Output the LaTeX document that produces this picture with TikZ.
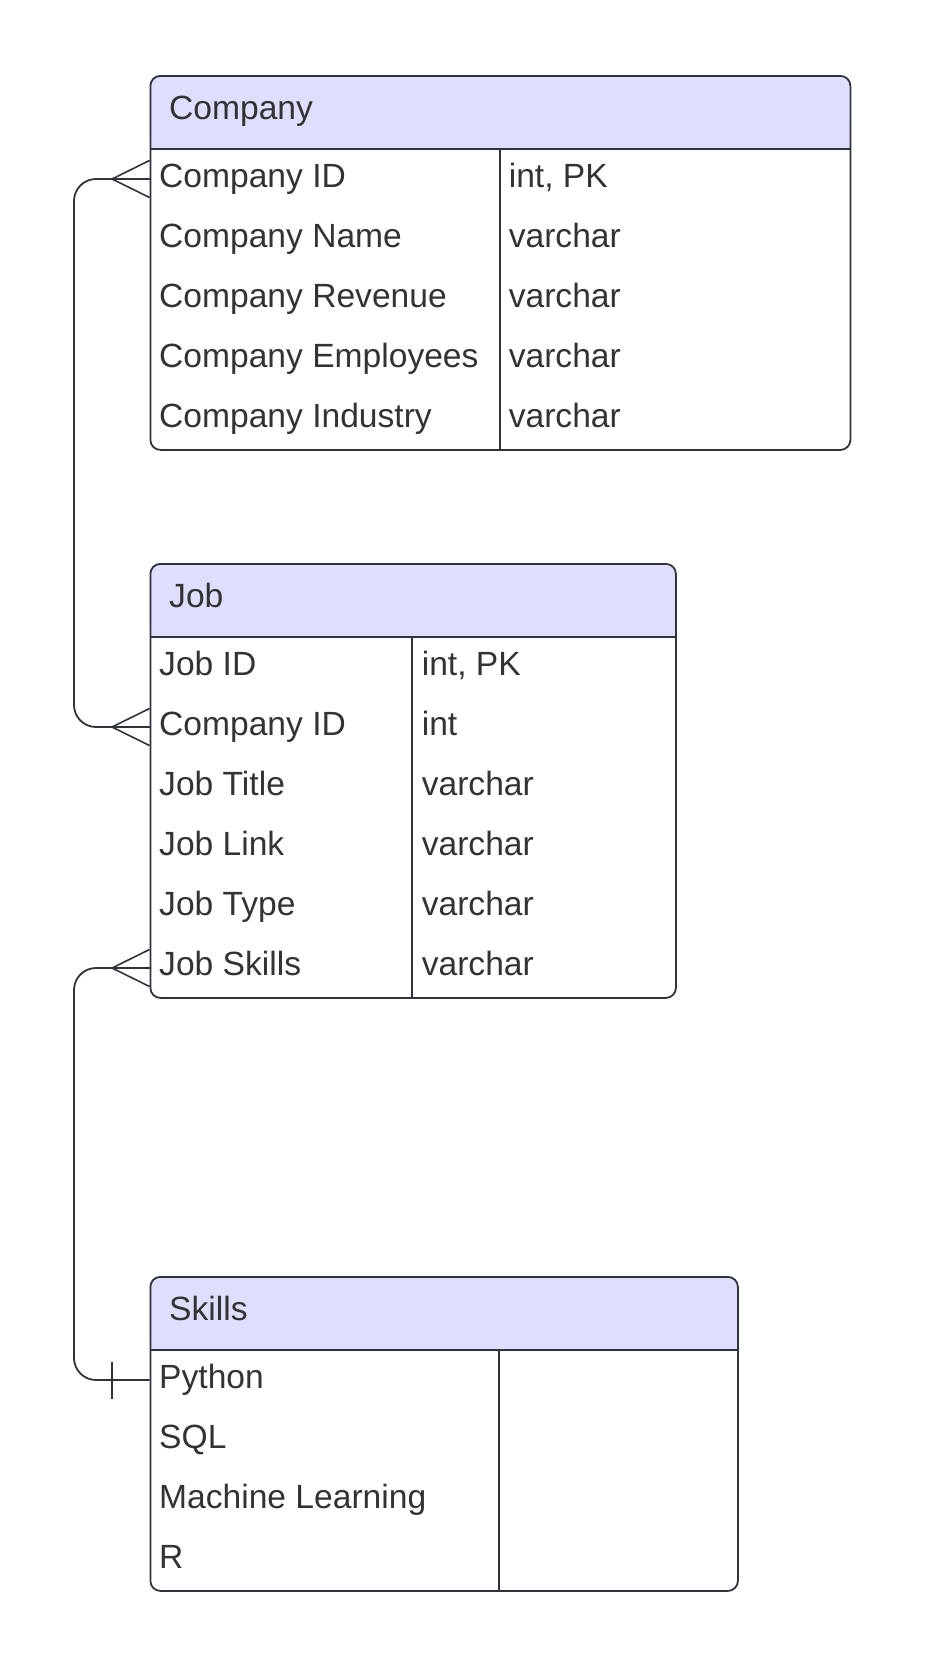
\documentclass[tikz,border=0pt]{standalone}
\usepackage{fontspec}
\setmainfont{Liberation Sans}
\definecolor{hdrfill}{RGB}{222,222,255}
\definecolor{linec}{RGB}{48,51,59}
\definecolor{txtc}{RGB}{51,51,51}
\newcommand{\erfont}{\fontsize{33.6}{40}\selectfont}
\begin{document}
\begin{tikzpicture}[x=1pt,y=-1pt,
  tablebox/.style={draw=linec,line width=1.8pt,rounded corners=10pt,anchor=north west,inner sep=0pt},
  hdr/.style={fill=hdrfill},
  rule/.style={draw=linec,line width=1.8pt},
  conn/.style={draw=linec,line width=1.8pt,rounded corners=22pt},
  foot/.style={draw=linec,line width=1.6pt},
  lbl/.style={anchor=base west,inner sep=0pt,font=\erfont,text=txtc},
]
\useasboundingbox (0,0) rectangle (926,1665);

% ---------- Company ----------
\fill[hdr,rounded corners=10pt] (149.5,75) rectangle (849.5,149);
\fill[hdr] (149.5,120) rectangle (849.5,149);
\node[tablebox,minimum width=700pt,minimum height=374pt] (company) at (149.5,75) {};
\draw[rule] (149.5,149) -- (849.5,149);
\draw[rule] (500,149) -- (500,449);
\node[lbl] (companyT) at (169,119.3) {Company};
\node[lbl] (c1) at (159,187.7) {Company ID};
\node[lbl] (c2) at (159,247.7) {Company Name};
\node[lbl] (c3) at (159,307.7) {Company Revenue};
\node[lbl] (c4) at (159,367.7) {Company Employees};
\node[lbl] (c5) at (159,427.7) {Company Industry};
\node[lbl] (c1t) at (508.6,187.7) {int, PK};
\node[lbl] (c2t) at (508.6,247.7) {varchar};
\node[lbl] (c3t) at (508.6,307.7) {varchar};
\node[lbl] (c4t) at (508.6,367.7) {varchar};
\node[lbl] (c5t) at (508.6,427.7) {varchar};

% ---------- Job ----------
\fill[hdr,rounded corners=10pt] (149.5,563) rectangle (675,637);
\fill[hdr] (149.5,600) rectangle (675,637);
\node[tablebox,minimum width=525.5pt,minimum height=434pt] (job) at (149.5,563) {};
\draw[rule] (149.5,637) -- (675,637);
\draw[rule] (412,637) -- (412,997);
\node[lbl] (jobT) at (169,607.3) {Job};
\node[lbl] (j1) at (159,675.7) {Job ID};
\node[lbl] (j2) at (159,735.7) {Company ID};
\node[lbl] (j3) at (159,795.7) {Job Title};
\node[lbl] (j4) at (159,855.7) {Job Link};
\node[lbl] (j5) at (159,915.7) {Job Type};
\node[lbl] (j6) at (159,975.7) {Job Skills};
\node[lbl] (j1t) at (421.6,675.7) {int, PK};
\node[lbl] (j2t) at (421.6,735.7) {int};
\node[lbl] (j3t) at (421.6,795.7) {varchar};
\node[lbl] (j4t) at (421.6,855.7) {varchar};
\node[lbl] (j5t) at (421.6,915.7) {varchar};
\node[lbl] (j6t) at (421.6,975.7) {varchar};

% ---------- Skills ----------
\fill[hdr,rounded corners=10pt] (149.5,1276) rectangle (737,1350);
\fill[hdr] (149.5,1310) rectangle (737,1350);
\node[tablebox,minimum width=587.5pt,minimum height=314pt] (skills) at (149.5,1276) {};
\draw[rule] (149.5,1350) -- (737,1350);
\draw[rule] (499,1350) -- (499,1590);
\node[lbl] (skillsT) at (169,1320.3) {Skills};
\node[lbl] (s1) at (159,1388.7) {Python};
\node[lbl] (s2) at (159,1448.7) {SQL};
\node[lbl] (s3) at (159,1508.7) {Machine Learning};
\node[lbl] (s4) at (159,1568.7) {R};

% ---------- connector coordinates ----------
\coordinate (pA) at (112,179);
\coordinate (pB) at (112,727);
\coordinate (pC) at (112,968);
\coordinate (pD) at (149.5,1380);
\coordinate (tD) at (112,1380);

% Company ID -- Job.Company ID
\draw[conn] (pA) -- (74,179) -- (74,727) -- (pB);
\draw[foot] (149.5,160.5) -- (pA) -- (149.5,197.5);
\draw[foot] (pA) -- (149.5,179);
\draw[foot] (149.5,708.5) -- (pB) -- (149.5,745.5);
\draw[foot] (pB) -- (149.5,727);

% Job Skills -- Skills
\draw[conn] (pC) -- (74,968) -- (74,1380) -- (pD);
\draw[foot] (149.5,949.5) -- (pC) -- (149.5,986.5);
\draw[foot] (pC) -- (149.5,968);
\draw[foot] ([yshift=18.5pt]tD) -- ([yshift=-18.5pt]tD);
\end{tikzpicture}
\end{document}
